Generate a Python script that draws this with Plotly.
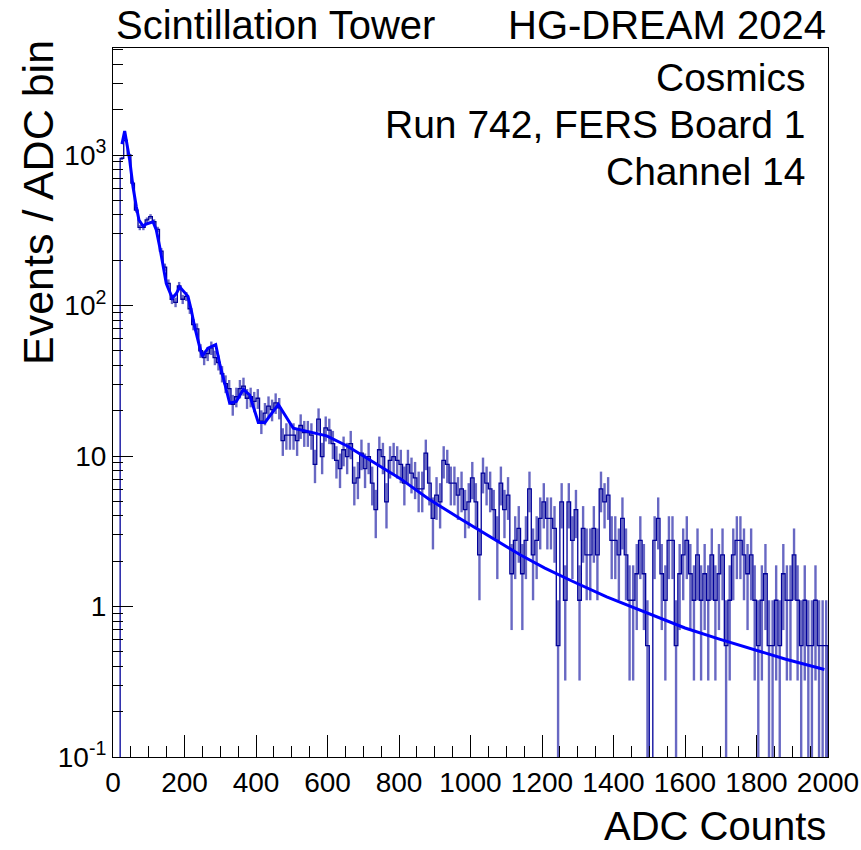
import numpy as np
import plotly.graph_objects as go

# ---------------- data ----------------
BIN_WIDTH = 10.0          # ADC counts per bin
X_RANGE = [0, 2000]
COUNT_SCALE = 0.55        # events / ADC bin per raw entry

# raw entries per bin (bin k covers [10k, 10k+10) ADC)
counts = [
    0, 0,
    1727, 2273, 1818, 1182, 782, 600, 600, 673, 709, 655, 582, 418, 327, 255,
    200, 191, 245, 200, 209, 173, 136, 127, 91, 82, 87, 95, 82, 76, 64, 55,
    51, 40, 45, 51, 53, 44, 45, 42,
    44, 31, 35, 39, 37, 41, 38, 23, 25, 25, 25, 23, 29, 26, 26, 25, 16, 32,
    18, 28, 27, 22, 17, 15, 20, 18, 22, 12, 13, 19, 15, 18, 12, 8, 20, 18,
    9, 17, 18, 17, 16,
    12, 16, 14, 13, 11, 11, 19, 12, 7, 10, 9, 17, 16, 12, 12, 10, 11, 8, 9,
    13, 9, 4, 14, 12, 11, 8, 5, 12, 8, 10, 3, 5, 6, 3, 5, 11, 4, 5, 7, 9,
    7, 7, 6, 1, 9, 2, 9, 5, 8, 2, 6, 4, 4, 6, 4, 11, 9, 10, 5, 5, 4, 7, 4, 2,
    2, 3, 5, 3, 1, 0, 5, 7, 3, 2, 5, 5, 1, 3, 4,
    5, 3, 2, 4, 2, 3, 2, 4, 2, 3, 4, 1, 2, 4, 5, 5, 4, 3, 4, 2, 1, 2, 3, 1, 1,
    2, 1, 3, 2, 2, 4, 2, 1, 2, 1, 1, 2, 1, 1, 1,
]

# fit function as drawn (ADC, events / ADC bin)
fit_adc = [25, 32.7, 46.7, 55.9, 65.2, 72.7, 83.9, 93.1, 111.9, 121.1, 130.6,
           139.9, 149.1, 165.9, 177.1, 186.6, 209.8, 219, 228.5, 242.5, 249.8,
           265.7, 287.3, 298.5, 312.4, 326.4, 344.9, 364.5, 382.4, 406.4,
           425.2, 462.4, 504.3, 560.3, 597.8, 653.7, 709.7, 756.1, 802.8, 882,
           975, 1068, 1140, 1208, 1288, 1381, 1474, 1600, 1694, 1788, 1882,
           1990]
fit_val = [1180, 1443, 927, 615, 454, 370, 337, 348, 360, 318, 246,
           181, 140, 112, 120, 133, 115, 93, 72, 53, 46,
           52, 55, 41, 30, 22.4, 23, 27.7, 25.4, 16.7,
           16.7, 22, 15.3, 14.3, 13.6, 11.7, 9.75, 8.3, 7.1, 5.2,
           3.78, 2.78, 2.2, 1.8, 1.46, 1.16, 0.95, 0.72, 0.61, 0.52, 0.446,
           0.381]

x_major = [0, 200, 400, 600, 800, 1000, 1200, 1400, 1600, 1800, 2000]
y_major = [0.1, 1, 10, 100, 1000]
y_major_text = ["10<sup>-1</sup>", "1", "10", "10<sup>2</sup>", "10<sup>3</sup>"]

TITLE_LEFT = "Scintillation Tower"
TITLE_RIGHT = "HG-DREAM 2024"
INFO_LINES = ["Cosmics", "Run 742, FERS Board 1", "Channel 14"]
X_TITLE = "ADC Counts"
Y_TITLE = "Events / ADC bin"

# ---------------- derived ----------------
counts = np.array(counts, dtype=float)
nb = len(counts)
edges = X_RANGE[0] + BIN_WIDTH * np.arange(nb + 1)
centers = 0.5 * (edges[:-1] + edges[1:])
vals = counts * COUNT_SCALE
errs = np.sqrt(counts) * COUNT_SCALE
FLOOR = 1e-4  # below visible range (log axis)

# step outline
sx, sy = [edges[0]], [FLOOR]
for k in range(nb):
    v = vals[k] if vals[k] > 0 else FLOOR
    sx += [edges[k], edges[k + 1]]
    sy += [v, v]
sx.append(edges[-1]); sy.append(FLOOR)

# error bars as vertical segments
ex, ey = [], []
for k in range(nb):
    if counts[k] <= 0:
        continue
    lo = vals[k] - errs[k]
    lo = lo if lo > 0 else FLOOR
    ex += [centers[k], centers[k], None]
    ey += [lo, vals[k] + errs[k], None]

# ---------------- figure ----------------
W, H = 861, 850
L, R, T, B = 113, 33, 48, 93
plot_h = H - T - B
plot_w = W - L - R


def px(xp):
    return (xp - L) / plot_w


def py(yp):
    return (H - B - yp) / plot_h


fig = go.Figure()
fig.add_trace(go.Scatter(x=ex, y=ey, mode="lines",
                         line=dict(color="rgba(40,40,170,0.7)", width=2.4),
                         hoverinfo="skip"))
fig.add_trace(go.Scatter(x=sx, y=sy, mode="lines",
                         line=dict(color="#000099", width=1.3),
                         hoverinfo="skip"))
fig.add_trace(go.Scatter(x=fit_adc, y=fit_val, mode="lines",
                         line=dict(color="#0000ff", width=3),
                         hoverinfo="skip"))

FONT = "Liberation Sans, Arial, Helvetica, sans-serif"
y_top = np.log10(0.1) + (H - B - T) / 150.5

minor_y = [m * 10.0 ** d for d in range(-1, 4) for m in range(2, 10)]
minor_y = [v for v in minor_y if np.log10(v) < y_top]
minor_x = [v for v in range(50, 2000, 50) if v % 200 != 0]

fig.update_layout(
    width=W, height=H, autosize=False,
    margin=dict(l=L, r=R, t=T, b=B, autoexpand=False),
    paper_bgcolor="white", plot_bgcolor="white",
    showlegend=False,
    font=dict(family=FONT, size=28, color="black"),
    xaxis=dict(range=X_RANGE, showgrid=False, zeroline=False,
               automargin=False,
               showline=True, linecolor="black", linewidth=1, mirror=True,
               ticks="inside", ticklen=22, tickwidth=1, tickcolor="black",
               tickmode="array", tickvals=x_major,
               ticktext=[str(v) for v in x_major],
               tickfont=dict(family=FONT, size=28),
               minor=dict(ticks="inside", ticklen=11, tickwidth=1,
                          tickcolor="black", tickmode="array",
                          tickvals=minor_x, showgrid=False)),
    yaxis=dict(type="log", range=[-1, y_top], showgrid=False, zeroline=False,
               automargin=False,
               showline=True, linecolor="black", linewidth=1, mirror=True,
               ticks="inside", ticklen=20, tickwidth=1, tickcolor="black",
               tickmode="array", tickvals=y_major, ticktext=y_major_text,
               tickfont=dict(family=FONT, size=28),
               minor=dict(ticks="inside", ticklen=10, tickwidth=1,
                          tickcolor="black", tickmode="array",
                          tickvals=minor_y, showgrid=False)),
)

ann = []
ann.append(dict(text=TITLE_LEFT, x=px(114), y=py(25), xanchor="left",
                yanchor="middle", font=dict(size=40)))
ann.append(dict(text=TITLE_RIGHT, x=px(828), y=py(25), xanchor="right",
                yanchor="middle", font=dict(size=40)))
for i, (t, yc) in enumerate(zip(INFO_LINES, [77, 124, 172])):
    ann.append(dict(text=t, x=px(808), y=py(yc), xanchor="right",
                    yanchor="middle", font=dict(size=39)))
ann.append(dict(text=X_TITLE, x=px(828), y=py(826), xanchor="right",
                yanchor="middle", font=dict(size=40)))
ann.append(dict(text=Y_TITLE, x=px(38), y=py(203), xanchor="center",
                yanchor="middle", textangle=-90, font=dict(size=43)))
for a in ann:
    a.update(xref="paper", yref="paper", showarrow=False)
    a["font"].update(family=FONT, color="black")
fig.update_layout(annotations=ann)

fig.write_html("out.html", config={"responsive": False})
